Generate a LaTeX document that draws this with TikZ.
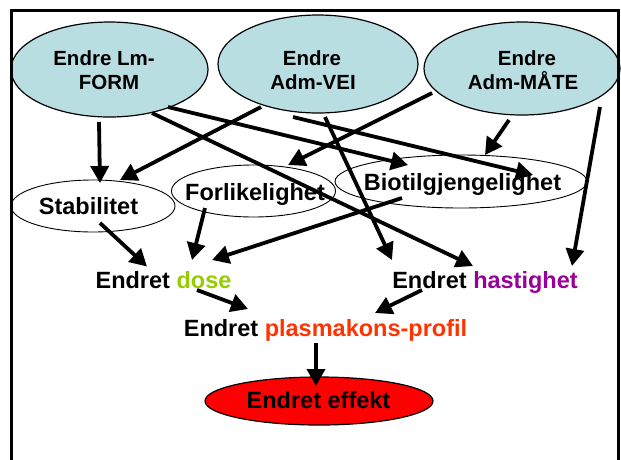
\documentclass[tikz,border=0pt]{standalone}
\usepackage{fontspec}
\setmainfont{Liberation Sans}
\usetikzlibrary{arrows.meta,shapes.geometric,calc}
\definecolor{topfill}{RGB}{185,222,226}
\definecolor{dosegreen}{RGB}{153,204,0}
\definecolor{hastpurple}{RGB}{153,0,153}
\definecolor{plasred}{RGB}{255,51,0}
\begin{document}
\begin{tikzpicture}[x=1pt,y=-1pt,
  topell/.style={ellipse,draw=black,line width=1.2pt,fill=topfill,inner sep=0pt},
  midell/.style={ellipse,draw=black,line width=0.9pt,fill=white,inner sep=0pt},
  effell/.style={ellipse,draw=black,line width=1.2pt,fill=red,inner sep=0pt},
  topline/.style={font=\fontsize{20.5}{24}\selectfont\bfseries,inner sep=0pt,text height=14.7pt,text depth=0pt},
  bigtext/.style={font=\fontsize{23.5}{28}\selectfont\bfseries,inner sep=0pt,text height=16.8pt,text depth=0pt},
  conn/.style={line width=3.8pt,-{Triangle[length=17pt,width=18pt]}},
  frame/.style={line width=2.7pt,line join=miter}
]
\useasboundingbox (0,0) rectangle (621,459);
\fill[white] (0,0) rectangle (621,459);

% top ellipses
\node[topell,minimum width=197pt,minimum height=95pt] (e1) at (109.5,69.5) {};
\node[topell,minimum width=200pt,minimum height=98pt] (e2) at (318,64) {};
\node[topell,minimum width=196pt,minimum height=93pt] (e3) at (522,68.5) {};
\node[topline] (e1a) at (104,58) {Endre Lm-};
\node[topline] (e1b) at (109,82) {FORM};
\node[topline] (e2a) at (312,58) {Endre};
\node[topline] (e2b) at (313,82) {Adm-VEI};
\node[topline] (e3a) at (527,58) {Endre};
\node[topline] (e3b) at (523,82) {Adm-MÅTE};

% middle ellipses
\node[midell,minimum width=164pt,minimum height=52pt] (stab) at (93,206) {};
\node[midell,minimum width=164pt,minimum height=52pt] (forl) at (253.5,191) {};
\node[midell,minimum width=252pt,minimum height=53pt] (bio) at (461,181.5) {};
\node[bigtext] (stabt) at (88.5,206.5) {Stabilitet};
\node[bigtext] (forlt) at (255,192.5) {Forlikelighet};
\node[bigtext] (biot) at (462.5,182) {Biotilgjengelighet};

% text rows
\node[bigtext] (dose) at (163.5,280) {Endret \textcolor{dosegreen}{dose}};
\node[bigtext] (hast) at (485,280) {Endret \textcolor{hastpurple}{hastighet}};
\node[bigtext] (plas) at (325.5,328) {Endret \textcolor{plasred}{plasmakons-profil}};
\node[effell,minimum width=228pt,minimum height=48pt] (eff) at (319,401) {};
\node[bigtext] (efft) at (318.5,400) {Endret effekt};

% connectors
\draw[conn] ([shift={(-10.5,52.5)}]e1.center) -- ([shift={(7,-23)}]stab.center);
\draw[conn] ([shift={(42.5,43.5)}]e1.center) -- ([shift={(-12,-14)}]hast.center);
\draw[conn] ([shift={(58.5,37.5)}]e1.center) -- ([shift={(-53,-16.5)}]bio.center);
\draw[conn] ([shift={(-57,43)}]e2.center) -- ([shift={(27,-26)}]stab.center);
\draw[conn] ([shift={(-25,53)}]e2.center) -- ([shift={(72,-6.5)}]bio.center);
\draw[conn] ([shift={(7,53)}]e2.center) -- ([shift={(-93,-20)}]hast.center);
\draw[conn] ([shift={(-90,24.5)}]e3.center) -- ([shift={(34.5,-26)}]forl.center);
\draw[conn] ([shift={(-13,51.5)}]e3.center) -- ([shift={(24,-26.5)}]bio.center);
\draw[conn] ([shift={(78,38.5)}]e3.center) -- ([shift={(87,-14)}]hast.center);
\draw[conn] ([shift={(7,17)}]stab.center) -- ([shift={(-16.5,-13.5)}]dose.center);
\draw[conn] ([shift={(-48.5,17)}]forl.center) -- ([shift={(28.5,-20)}]dose.center);
\draw[conn] ([shift={(-59,16.5)}]bio.center) -- ([shift={(48.5,-20)}]dose.center);
\draw[conn] ([shift={(33.5,10)}]dose.center) -- ([shift={(-77.5,-19)}]plas.center);
\draw[conn] ([shift={(-63,10)}]hast.center) -- ([shift={(49.5,-15)}]plas.center);
\draw[conn] ([shift={(-9.5,15)}]plas.center) -- ([shift={(-3,-15)}]eff.center);

% frame
\draw[frame] (11.3,470) -- (11.3,10.5) -- (618.7,10.5) -- (618.7,470);
\end{tikzpicture}
\end{document}
